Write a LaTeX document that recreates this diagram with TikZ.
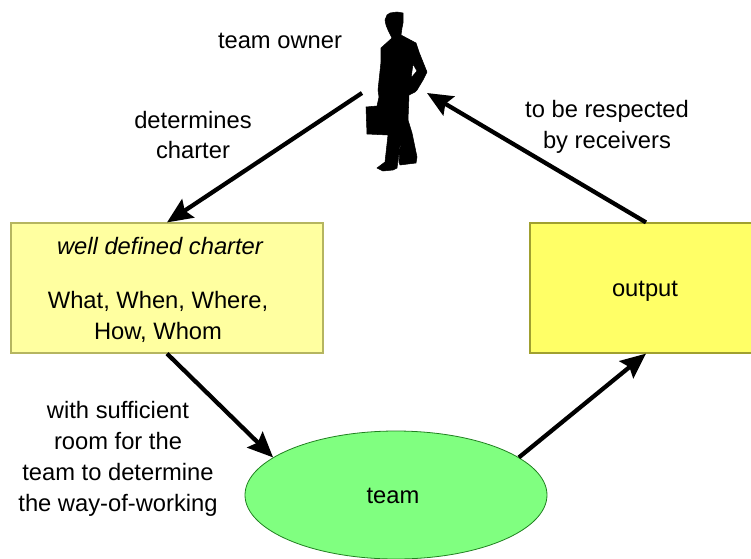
\documentclass[tikz,border=0pt]{standalone}
\usepackage{fontspec}
\setmainfont{Liberation Sans}
\usetikzlibrary{arrows.meta,shapes.geometric}
\definecolor{charterfill}{HTML}{FFFFA0}
\definecolor{charterline}{HTML}{B5B560}
\definecolor{outputfill}{HTML}{FFFF66}
\definecolor{outputline}{HTML}{A0A030}
\definecolor{teamfill}{HTML}{80FF80}
\definecolor{teamline}{HTML}{208020}
\tikzset{
  label text/.style = {align=center, inner sep=0pt, font=\fontsize{17.8}{23.1}\selectfont},
  flow/.style = {line width=3.2pt, -{Stealth[length=19pt,width=16.5pt,inset=3pt]}},
}
\begin{document}
\begin{tikzpicture}[x=0.75pt, y=-0.75pt]
  \clip (0, 0) rectangle (751, 558);
  % boxes
  \node[draw=charterline, fill=charterfill, line width=0.9pt, minimum width=234pt, minimum height=97.5pt, inner sep=0pt] (charter) at (167, 288) {};
  \node[draw=outputline, fill=outputfill, line width=0.9pt, minimum width=174pt, minimum height=97.5pt, inner sep=0pt] (output) at (646, 288) {};
  \node[draw=teamline, fill=teamfill, ellipse, line width=0.6pt, minimum width=226.5pt, minimum height=96pt, inner sep=0pt] (team) at (396, 495) {};
  % man with briefcase
  \filldraw[even odd rule, line width=0.4pt, line join=round] (385, 20) -- (387, 15) -- (390, 13) -- (397, 12) -- (403, 13) -- (403, 23) -- (402, 28) -- (401, 35)
    -- (416, 43) -- (419, 52) -- (427, 72) -- (423, 80) -- (417, 90) -- (415, 92) -- (409, 95) -- (408, 120)
    -- (412, 133) -- (417, 157) -- (416, 163) -- (400, 165) -- (399, 162) -- (401, 138) -- (397, 168)
    -- (393, 170) -- (383, 171) -- (377, 168) -- (385, 162) -- (388, 135) -- (367, 134) -- (366, 107)
    -- (377, 106) -- (379, 97) -- (378, 90) -- (381, 62) -- (381, 48) -- (392, 38) -- (388, 30) -- (386, 25) -- cycle
    (413, 64) -- (417, 71) -- (411, 78) -- cycle;
  \coordinate (ownerout) at (362, 93);
  \coordinate (ownerin)  at (427, 93);
  % connectors
  \draw[flow] (ownerout) -- (charter.north);
  \draw[flow] (charter.south) -- (team.163);
  \draw[flow] (team.17) -- (output.south);
  \draw[flow] (output.north) -- (ownerin);
  % texts
  \node[label text] (ownerlabel) at (280, 41)  {team owner};
  \node[label text] (determines) at (193, 135) {determines\\charter};
  \node[label text] (respected)  at (607, 127) {to be respected\\by receivers};
  \node[label text] (room)       at (118, 459) {with sufficient\\room for the\\team to determine\\the way-of-working};
  \node[label text] (chartertitle) at (160, 246) {\itshape well defined charter};
  \node[label text] (chartertext)  at (158, 317) {What, When, Where,\\How, Whom};
  \node[label text] (outputlabel)  at (645, 291) {output};
  \node[label text] (teamlabel)    at (393, 496) {team};
\end{tikzpicture}
\end{document}
